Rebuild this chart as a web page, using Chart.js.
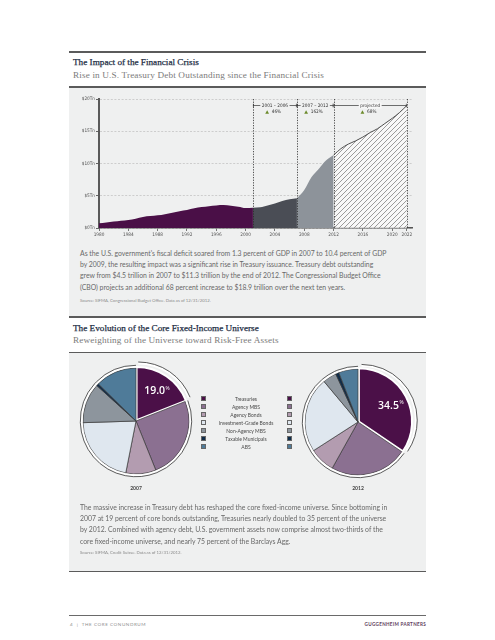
<!DOCTYPE html>
<html>
<head>
<meta charset="utf-8">
<script src="https://cdn.jsdelivr.net/npm/chart.js@4.4.1/dist/chart.umd.min.js"></script>
<style>
  html, body { margin: 0; padding: 0; background: #fff; }
  #page { position: relative; width: 495px; height: 640px; overflow: hidden; }
  .rule { position: absolute; left: 69px; width: 357px; background: #5b5b5b; }
  .panel { position: absolute; left: 69px; width: 357px; background: #eff0f0; }
  .title { position: absolute; left: 73px; font-family: "Liberation Serif", serif; font-size: 9.2px; color: #1d2d44; white-space: nowrap; line-height: 12px; -webkit-text-stroke: 0.25px #1d2d44; }
  .subtitle { position: absolute; left: 73px; font-family: "Liberation Serif", serif; font-size: 9.2px; color: #7b7b7b; white-space: nowrap; line-height: 12px; letter-spacing: 0.15px; }
  .body { position: absolute; left: 80px; font-family: Lato, "Open Sans", sans-serif; font-size: 6.85px; line-height: 11.2px; color: #686868; white-space: nowrap; }
  .source { position: absolute; left: 80px; font-family: Lato, sans-serif; font-size: 4.3px; color: #8a8a8a; white-space: nowrap; }
  canvas { position: absolute; }
  .legend { position: absolute; font-family: Lato, sans-serif; font-size: 5px; color: #4a4a4a; }
  .lrow { position: absolute; height: 8px; line-height: 8px; width: 100px; }
  .sw { position: absolute; width: 4.5px; height: 4.5px; top: 1.7px; box-sizing: border-box; border: 0.5px solid #666; }
  .yr { position: absolute; font-family: Lato, sans-serif; font-weight: bold; font-size: 5px; color: #444; width: 40px; text-align: center; }
  .foot { position: absolute; top: 621px; font-family: Lato, sans-serif; font-size: 4.6px; white-space: nowrap; }
</style>
</head>
<body>
<div id="page">
  <div class="rule" style="top:51px;height:1.5px"></div>
  <div class="title" style="top:56px">The Impact of the Financial Crisis</div>
  <div class="subtitle" style="top:69px">Rise in U.S. Treasury Debt Outstanding since the Financial Crisis</div>

  <div class="panel" style="top:86px;height:230px"></div>
  <div class="rule" style="top:86px;height:1.5px"></div>
  <canvas id="debt" width="357" height="155" style="left:69px;top:88px"></canvas>
  <div class="body" style="top:248px">
    As the U.S. government's fiscal deficit soared from 1.3 percent of GDP in 2007 to 10.4 percent of GDP<br>
    by 2009, the resulting impact was a significant rise in Treasury issuance. Treasury debt outstanding<br>
    grew from $4.5 trillion in 2007 to $11.3 trillion by the end of 2012. The Congressional Budget Office<br>
    (CBO) projects an additional 68 percent increase to $18.9 trillion over the next ten years.
  </div>
  <div class="source" style="top:298px">Source: SIFMA, Congressional Budget Office. Data as of 12/31/2012.</div>

  <div class="rule" style="top:316px;height:1.5px"></div>
  <div class="title" style="top:322px">The Evolution of the Core Fixed-Income Universe</div>
  <div class="subtitle" style="top:334px">Reweighting of the Universe toward Risk-Free Assets</div>

  <div class="panel" style="top:352px;height:219px"></div>
  <div class="rule" style="top:351.5px;height:1.5px"></div>
  <canvas id="pie2007" width="140" height="140" style="left:66px;top:351px"></canvas>
  <canvas id="pie2012" width="140" height="140" style="left:288px;top:352px"></canvas>
  <div id="legend" class="legend" style="left:0;top:0"></div>
  <div class="yr" style="left:116px;top:485px">2007</div>
  <div class="yr" style="left:338px;top:485px">2012</div>
  <div class="body" style="top:502px">
    The massive increase in Treasury debt has reshaped the core fixed-income universe. Since bottoming in<br>
    2007 at 19 percent of core bonds outstanding, Treasuries nearly doubled to 35 percent of the universe<br>
    by 2012. Combined with agency debt, U.S. government assets now comprise almost two-thirds of the<br>
    core fixed-income universe, and nearly 75 percent of the Barclays Agg.
  </div>
  <div class="source" style="top:550px">Source: SIFMA, Credit Suisse. Data as of 12/31/2012.</div>
  <div class="rule" style="top:570.5px;height:1.5px"></div>

  <div class="rule" style="top:614.5px;height:1px;background:#6a6a6a"></div>
  <div class="foot" style="left:70px;color:#8e8e8e;letter-spacing:0.55px">4 &nbsp;|&nbsp; THE CORE CONUNDRUM</div>
  <div class="foot" style="right:69px;color:#5e3c5c;font-weight:bold;letter-spacing:0.3px">GUGGENHEIM PARTNERS</div>
</div>

<script>
// Treasury debt outstanding, $ trillions (2013-2022 = CBO projection)
const years = [1980, 1981, 1982, 1983, 1984, 1985, 1986, 1987, 1988, 1989,
  1990, 1991, 1992, 1993, 1994, 1995, 1996, 1997, 1998, 1999,
  2000, 2001, 2002, 2003, 2004, 2005, 2006, 2007, 2008, 2009,
  2010, 2011, 2012, 2013, 2014, 2015, 2016, 2017, 2018, 2019,
  2020, 2021, 2022];
const debtTn = [0.73, 0.85, 1.0, 1.12, 1.24, 1.45, 1.72, 1.85, 1.96, 2.15,
  2.37, 2.6, 2.79, 3.05, 3.25, 3.38, 3.5, 3.55, 3.45, 3.3,
  3.1, 3.15, 3.2, 3.5, 3.8, 4.2, 4.45, 4.6, 5.9, 7.9,
  9.2, 10.5, 11.3, 12.3, 13.0, 13.5, 14.1, 14.8, 15.4, 16.2,
  17.0, 17.9, 19.0];
const periodBreaks = [1980, 2001, 2007, 2012, 2022];
const periodColors = ["#4a0f47", "#4a4d55", "#8d939a", "hatch"];
const periodLabels = ["2001 – 2006", "2007 – 2012", "projected"];
const periodChanges = ["46%", "162%", "68%"];
const xTickYears = [1980, 1984, 1988, 1992, 1996, 2000, 2004, 2008, 2012, 2016, 2020, 2022];
const yTickValues = [0, 5, 10, 15, 20];

// core fixed-income universe, percent of total
const sectors = ["Treasuries", "Agency MBS", "Agency Bonds", "Investment-Grade Bonds",
  "Non-Agency MBS", "Taxable Municipals", "ABS"];
const share2007 = [19.0, 24.9, 9.2, 21.4, 12.2, 0.7, 12.6];
const share2012 = [34.5, 23.6, 7.8, 23.0, 4.2, 1.0, 5.9];
const sectorColors = ["#4b1048", "#8b7091", "#b39cb0", "#dfe7ef", "#8d959d", "#102d4a", "#4f7b99"];

const panelBg = "#eff0f0";
const axisFont = "'DejaVu Sans Condensed', 'Liberation Sans Narrow', sans-serif";

function makeHatch() {
  const c = document.createElement("canvas");
  c.width = 5; c.height = 5;
  const g = c.getContext("2d");
  g.fillStyle = "rgba(250,250,250,0.8)";
  g.fillRect(0, 0, 5, 5);
  g.strokeStyle = "#8f8f8f";
  g.lineWidth = 0.9;
  g.beginPath();
  g.moveTo(0, 5); g.lineTo(5, 0);
  g.moveTo(-1, 1); g.lineTo(1, -1);
  g.moveTo(4, 6); g.lineTo(6, 4);
  g.stroke();
  return g.createPattern(c, "repeat");
}

// one filled area per period
const debtSets = [];
for (let i = 0; i < periodBreaks.length - 1; i++) {
  const pts = [];
  years.forEach((yr, k) => {
    if (yr >= periodBreaks[i] && yr <= periodBreaks[i + 1]) pts.push({ x: yr, y: debtTn[k] });
  });
  const last = i == periodBreaks.length - 2;
  debtSets.push({
    data: pts,
    fill: "origin",
    backgroundColor: periodColors[i] == "hatch" ? makeHatch() : periodColors[i],
    borderColor: last ? "#4d4d4d" : "rgba(0,0,0,0)",
    borderWidth: last ? 1 : 0,
    pointRadius: 0,
    cubicInterpolationMode: "monotone",
  });
}

//dashed period markers + brackets at the top
const periodMarks = {
  id: "periodMarks",
  afterDatasetsDraw(chart) {
    const { ctx, scales: { x, y } } = chart;
    ctx.save();
    ctx.strokeStyle = "#2b2b2b";
    ctx.lineWidth = 0.8;
    ctx.setLineDash([1.3, 1.3]);
    periodBreaks.slice(1).forEach((b) => {
      const px = Math.round(x.getPixelForValue(b)) + 0.5;
      ctx.beginPath();
      ctx.moveTo(px, y.getPixelForValue(20));
      ctx.lineTo(px, y.getPixelForValue(0));
      ctx.stroke();
    });
    ctx.setLineDash([]);
    const yb = Math.round(y.getPixelForValue(19.1)) + 0.5;
    ctx.font = "4.7px " + axisFont;
    ctx.textBaseline = "middle";
    ctx.textAlign = "center";
    periodLabels.forEach((lab, i) => {
      const x1 = x.getPixelForValue(periodBreaks[i + 1]);
      const x2 = x.getPixelForValue(periodBreaks[i + 2]);
      ctx.strokeStyle = "#333";
      ctx.lineWidth = 0.7;
      ctx.beginPath();
      ctx.moveTo(x1, yb); ctx.lineTo(x2, yb);
      ctx.moveTo(x1 + 0.5, yb - 1.8); ctx.lineTo(x1 + 0.5, yb + 1.8);
      ctx.moveTo(x2 - 0.5, yb - 1.8); ctx.lineTo(x2 - 0.5, yb + 1.8);
      ctx.stroke();
      const cx = (x1 + x2) / 2;
      const w = ctx.measureText(lab).width + 3;
      ctx.fillStyle = i == 2 ? "#f7f7f7" : panelBg;
      ctx.fillRect(cx - w / 2, yb - 3, w, 6);
      ctx.fillStyle = "#333";
      ctx.fillText(lab, cx, yb);
      const ch = periodChanges[i];
      const cw = ctx.measureText(ch).width;
      const ty = yb + 6.5;
      ctx.fillStyle = "#6b8a2a";
      ctx.beginPath();
      ctx.moveTo(cx - cw / 2 - 5, ty + 1.8);
      ctx.lineTo(cx - cw / 2 - 1.2, ty + 1.8);
      ctx.lineTo(cx - cw / 2 - 3.1, ty - 1.8);
      ctx.closePath();
      ctx.fill();
      ctx.fillStyle = "#333";
      ctx.fillText(ch, cx + 1.5, ty);
    });
    ctx.restore();
  },
};

new Chart(document.getElementById("debt"), {
  type: "line",
  data: { datasets: debtSets },
  plugins: [periodMarks],
  options: {
    responsive: false,
    animation: false,
    layout: { padding: { top: 11, right: 14, left: 0, bottom: 0 } },
    plugins: { legend: { display: false }, tooltip: { enabled: false } },
    scales: {
      x: {
        type: "linear",
        min: 1980,
        max: 2022.7,
        afterBuildTicks: (s) => { s.ticks = xTickYears.map((v) => ({ value: v })); },
        afterFit: (s) => { s.height = 15; },
        ticks: { callback: (v) => String(v), font: { size: 4.7, family: axisFont }, color: "#555", padding: 1, autoSkip: false, maxRotation: 0 },
        grid: { drawOnChartArea: false, tickLength: 3, tickColor: "#555", tickWidth: 0.8 },
        border: { color: "#555", width: 1.5 },
      },
      y: {
        min: 0,
        max: 20,
        afterBuildTicks: (s) => { s.ticks = yTickValues.map((v) => ({ value: v })); },
        afterFit: (s) => { s.width = 30; },
        ticks: { callback: (v) => "$" + v + "Tn", font: { size: 4.7, family: axisFont }, color: "#555", padding: 1 },
        grid: { color: "#b5b5b5", lineWidth: 0.6, tickLength: 3, tickColor: "#555", tickWidth: 0.9 },
        border: { color: "#5a5a5a", width: 2, dash: [2, 1.6] },
      },
    },
  },
});

//outer double ring and the percentage on the treasuries slice
const pieDecor = {
  id: "pieDecor",
  afterDatasetsDraw(chart) {
    const ctx = chart.ctx;
    const arcs = chart.getDatasetMeta(0).data;
    ctx.save();
    arcs.forEach((el) => {
      const mid = (el.startAngle + el.endAngle) / 2;
      const off = el.options.offset || 0;
      const cx = el.x + Math.cos(mid) * off;
      const cy = el.y + Math.sin(mid) * off;
      ctx.beginPath();
      ctx.arc(cx, cy, el.outerRadius + 1.3, el.startAngle, el.endAngle);
      ctx.strokeStyle = "#ffffff";
      ctx.lineWidth = 2;
      ctx.stroke();
      ctx.beginPath();
      ctx.arc(cx, cy, el.outerRadius + 2.7, el.startAngle, el.endAngle);
      ctx.strokeStyle = "#333";
      ctx.lineWidth = 0.8;
      ctx.stroke();
    });
    const t = arcs[0];
    const mid = (t.startAngle + t.endAngle) / 2;
    const rr = t.outerRadius * 0.62 + (t.options.offset || 0);
    const tx = t.x + Math.cos(mid) * rr;
    const ty = t.y + Math.sin(mid) * rr;
    const num = chart.data.datasets[0].data[0].toFixed(1);
    ctx.fillStyle = "#ffffff";
    ctx.textBaseline = "alphabetic";
    ctx.font = "600 10.5px 'Open Sans', sans-serif";
    const nw = ctx.measureText(num).width;
    ctx.font = "5px 'Open Sans', sans-serif";
    const pw = ctx.measureText("%").width;
    const x0 = tx - (nw + pw) / 2;
    ctx.textAlign = "left";
    ctx.font = "600 10.5px 'Open Sans', sans-serif";
    ctx.fillText(num, x0, ty + 3.8);
    ctx.font = "5px 'Open Sans', sans-serif";
    ctx.fillText("%", x0 + nw + 0.5, ty - 0.5);
    ctx.restore();
  },
};

function makePie(id, shares) {
  return new Chart(document.getElementById(id), {
    type: "pie",
    data: {
      labels: sectors,
      datasets: [{
        data: shares,
        backgroundColor: sectorColors,
        borderColor: sectors.map((s, i) => (i == 0 ? "#ffffff" : "#3a3a3a")),
        borderWidth: sectors.map((s, i) => (i == 0 ? 2 : 0.7)),
        offset: sectors.map((s, i) => (i == 0 ? 4 : 0)),
      }],
    },
    plugins: [pieDecor],
    options: {
      responsive: false,
      animation: false,
      layout: { padding: 14 },
      plugins: { legend: { display: false }, tooltip: { enabled: false } },
    },
  });
}
makePie("pie2007", share2007);
makePie("pie2012", share2012);

// legend: one column of swatches on each side of the names
const legend = document.getElementById("legend");
sectors.forEach((name, i) => {
  const top = 394.5 + i * 8;
  const row = document.createElement("div");
  row.className = "lrow";
  row.style.left = "196px";
  row.style.top = top + "px";
  row.style.width = "100px";
  row.style.textAlign = "center";
  row.textContent = name;
  legend.appendChild(row);
  [201, 287].forEach((lx) => {
    const sw = document.createElement("div");
    sw.className = "sw";
    sw.style.left = lx + "px";
    sw.style.top = top + 1.7 + "px";
    sw.style.background = sectorColors[i];
    legend.appendChild(sw);
  });
});
</script>
</body>
</html>
